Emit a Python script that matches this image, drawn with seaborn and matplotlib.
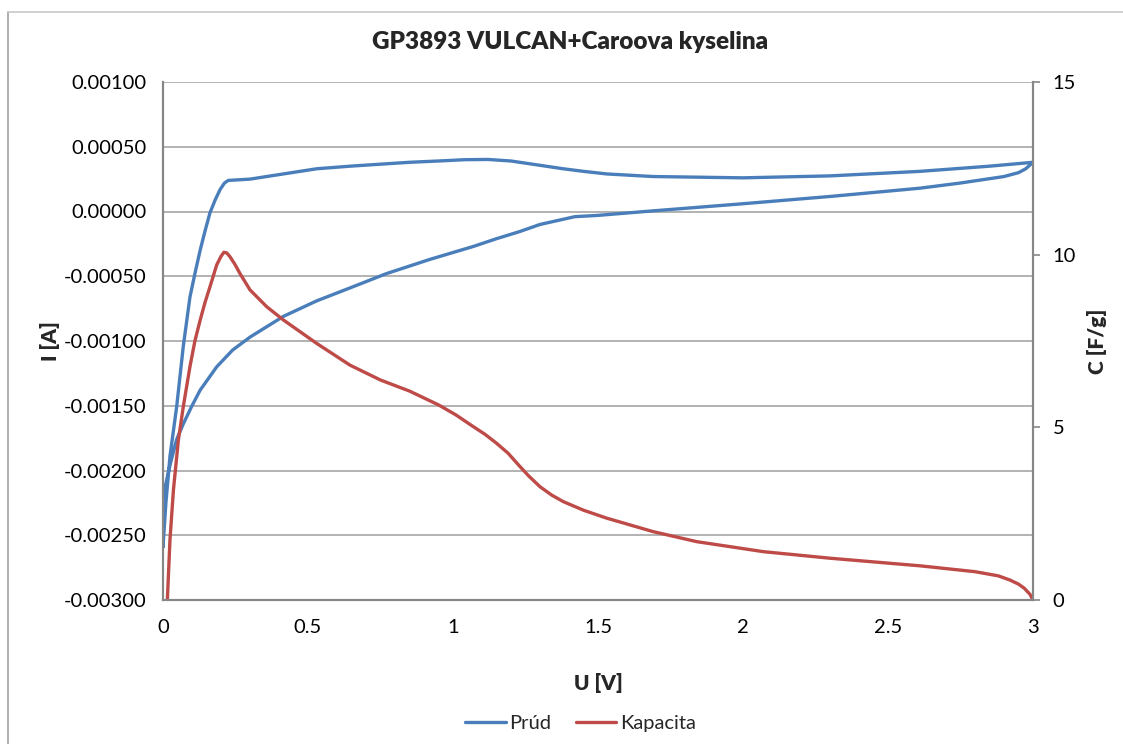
import pandas as pd
import seaborn as sns
import matplotlib.pyplot as plt
from matplotlib.lines import Line2D
from matplotlib.ticker import FuncFormatter, MultipleLocator

# --- data ---
# Prúd: closed CV loop (anodic branch, then cathodic branch back to 0 V)
U_prud = [0.000, 0.010, 0.024, 0.047, 0.070, 0.093, 0.110, 0.128, 0.145, 0.162,
          0.180, 0.197, 0.212, 0.225, 0.300, 0.415, 0.530, 0.645, 0.850, 0.950,
          1.040, 1.120, 1.200, 1.290, 1.380, 1.450, 1.530, 1.690, 2.000, 2.300,
          2.610, 2.850, 3.000,
          2.990, 2.975, 2.950, 2.900, 2.750, 2.610, 2.300, 2.000, 1.690, 1.500,
          1.420, 1.380, 1.300, 1.230, 1.150, 1.070, 0.920, 0.770, 0.645, 0.530,
          0.415, 0.300, 0.240, 0.185, 0.128, 0.100, 0.070, 0.047, 0.024, 0.003, 0.000]
I_prud = [-0.00259, -0.00225, -0.00189, -0.00151, -0.00104, -0.00066, -0.00048, -0.00030, -0.00015, -0.00001,
          0.00009, 0.00017, 0.00022, 0.00024, 0.00025, 0.00029, 0.00033, 0.00035, 0.00038, 0.00039,
          0.00040, 0.000402, 0.00039, 0.00036, 0.00033, 0.00031, 0.00029, 0.00027, 0.00026, 0.000275,
          0.00031, 0.00035, 0.00038,
          0.00036, 0.00033, 0.00030, 0.00027, 0.00022, 0.00018, 0.000116, 0.00006, 0.000005, -0.00003,
          -0.00004, -0.00006, -0.00010, -0.000155, -0.00021, -0.00027, -0.00037, -0.00048, -0.00059, -0.00069,
          -0.00081, -0.00097, -0.00107, -0.00120, -0.00138, -0.00150, -0.00164, -0.00176, -0.00196, -0.00217, -0.00259]

# Kapacita (right axis)
U_kap = [0.015, 0.024, 0.036, 0.053, 0.070, 0.093, 0.110, 0.128, 0.145, 0.162,
         0.185, 0.200, 0.210, 0.220, 0.231, 0.248, 0.265, 0.300, 0.358, 0.415,
         0.530, 0.645, 0.750, 0.850, 0.950, 1.010, 1.070, 1.110, 1.150, 1.190,
         1.226, 1.260, 1.300, 1.340, 1.380, 1.450, 1.530, 1.690, 1.840, 2.070,
         2.300, 2.610, 2.800, 2.880, 2.920, 2.950, 2.970, 2.990, 3.000]
C_kap = [0.00, 1.74, 3.19, 4.63, 5.60, 6.76, 7.50, 8.10, 8.62, 9.07,
         9.70, 9.95, 10.07, 10.05, 9.94, 9.72, 9.46, 8.98, 8.49, 8.11,
         7.43, 6.80, 6.37, 6.05, 5.65, 5.36, 5.02, 4.80, 4.54, 4.25,
         3.91, 3.60, 3.28, 3.04, 2.85, 2.60, 2.37, 1.98, 1.69, 1.40,
         1.21, 0.99, 0.82, 0.70, 0.58, 0.46, 0.34, 0.16, 0.00]

left_ticks = [-0.003, -0.0025, -0.002, -0.0015, -0.001, -0.0005, 0.0, 0.0005, 0.001]
right_ticks = [0, 5, 10, 15]

BLUE = "#4a7ebb"
RED = "#be4b48"
GRID = "#a6a6a6"
AXIS = "#868686"

sns.set_theme(style="white")
plt.rcParams['font.family'] = ['Lato', 'DejaVu Sans']

df_i = pd.DataFrame({"U": U_prud, "I": I_prud})
df_c = pd.DataFrame({"U": U_kap, "C": C_kap})

fig = plt.figure(figsize=(11.23, 7.44), dpi=100)
ax = fig.add_subplot(111)
fig.subplots_adjust(left=163/1123, right=1033/1123, top=1-82/744, bottom=1-600/744)
ax2 = ax.twinx()

sns.lineplot(data=df_i, x="U", y="I", sort=False, estimator=None, color=BLUE, lw=2.4, ax=ax)
sns.lineplot(data=df_c, x="U", y="C", sort=False, estimator=None, color=RED, lw=2.4, ax=ax2)

ax.set_xlim(0, 3)
ax.set_ylim(-0.003, 0.001)
ax2.set_ylim(0, 15)
ax.xaxis.set_major_locator(MultipleLocator(0.5))
ax.set_yticks(left_ticks)
ax2.set_yticks(right_ticks)
ax.xaxis.set_major_formatter(FuncFormatter(lambda v, p: f"{v:g}"))
ax.yaxis.set_major_formatter(FuncFormatter(lambda v, p: f"{v:.5f}"))

ax.grid(axis="y", color=GRID, lw=1.2)
ax.set_axisbelow(True)
for a in (ax, ax2):
    for s in a.spines.values():
        s.set_color(AXIS)
        s.set_linewidth(1.5)
    a.spines["top"].set_visible(False)
ax.tick_params(axis="x", length=0, pad=14, labelsize=14.5, colors="black")
ax.tick_params(axis="y", length=0, pad=12, labelsize=14.5, colors="black")
ax2.tick_params(axis="y", length=5, width=1.2, color=AXIS, pad=9, labelsize=14.5, labelcolor="black")

ax.set_xlabel("U [V]", fontsize=15, fontweight="heavy")
ax.xaxis.set_label_coords(0.5, -0.141)
ax.set_ylabel("I [A]", fontsize=15, fontweight="heavy", va="center")
ax.yaxis.set_label_coords(-0.130, 0.5)
ax2.set_ylabel("C [F/g]", fontsize=15, fontweight="heavy", va="center")
ax2.yaxis.set_label_coords(1.0736, 0.5)

fig.text(0.508, 1-42/744, "GP3893 VULCAN+Caroova kyselina", ha="center", va="center",
         fontsize=17.5, fontweight="heavy")

handles = [Line2D([], [], color=BLUE, lw=2.4), Line2D([], [], color=RED, lw=2.4)]
fig.legend(handles, ["Prúd", "Kapacita"], loc="center", bbox_to_anchor=(0.517, 1-723/744),
           ncol=2, frameon=False, fontsize=14.5, handlelength=2.0, handletextpad=0.2, columnspacing=1.2)

# chart area border (left and top edges visible)
fig.add_artist(Line2D([7.5/1123, 7.5/1123], [0, 1-12/744], transform=fig.transFigure, color="#a0a0a0", lw=1.2))
fig.add_artist(Line2D([7.5/1123, 1], [1-12/744, 1-12/744], transform=fig.transFigure, color="#c8c8c8", lw=1.2))

fig.savefig("out.png", dpi=100)
